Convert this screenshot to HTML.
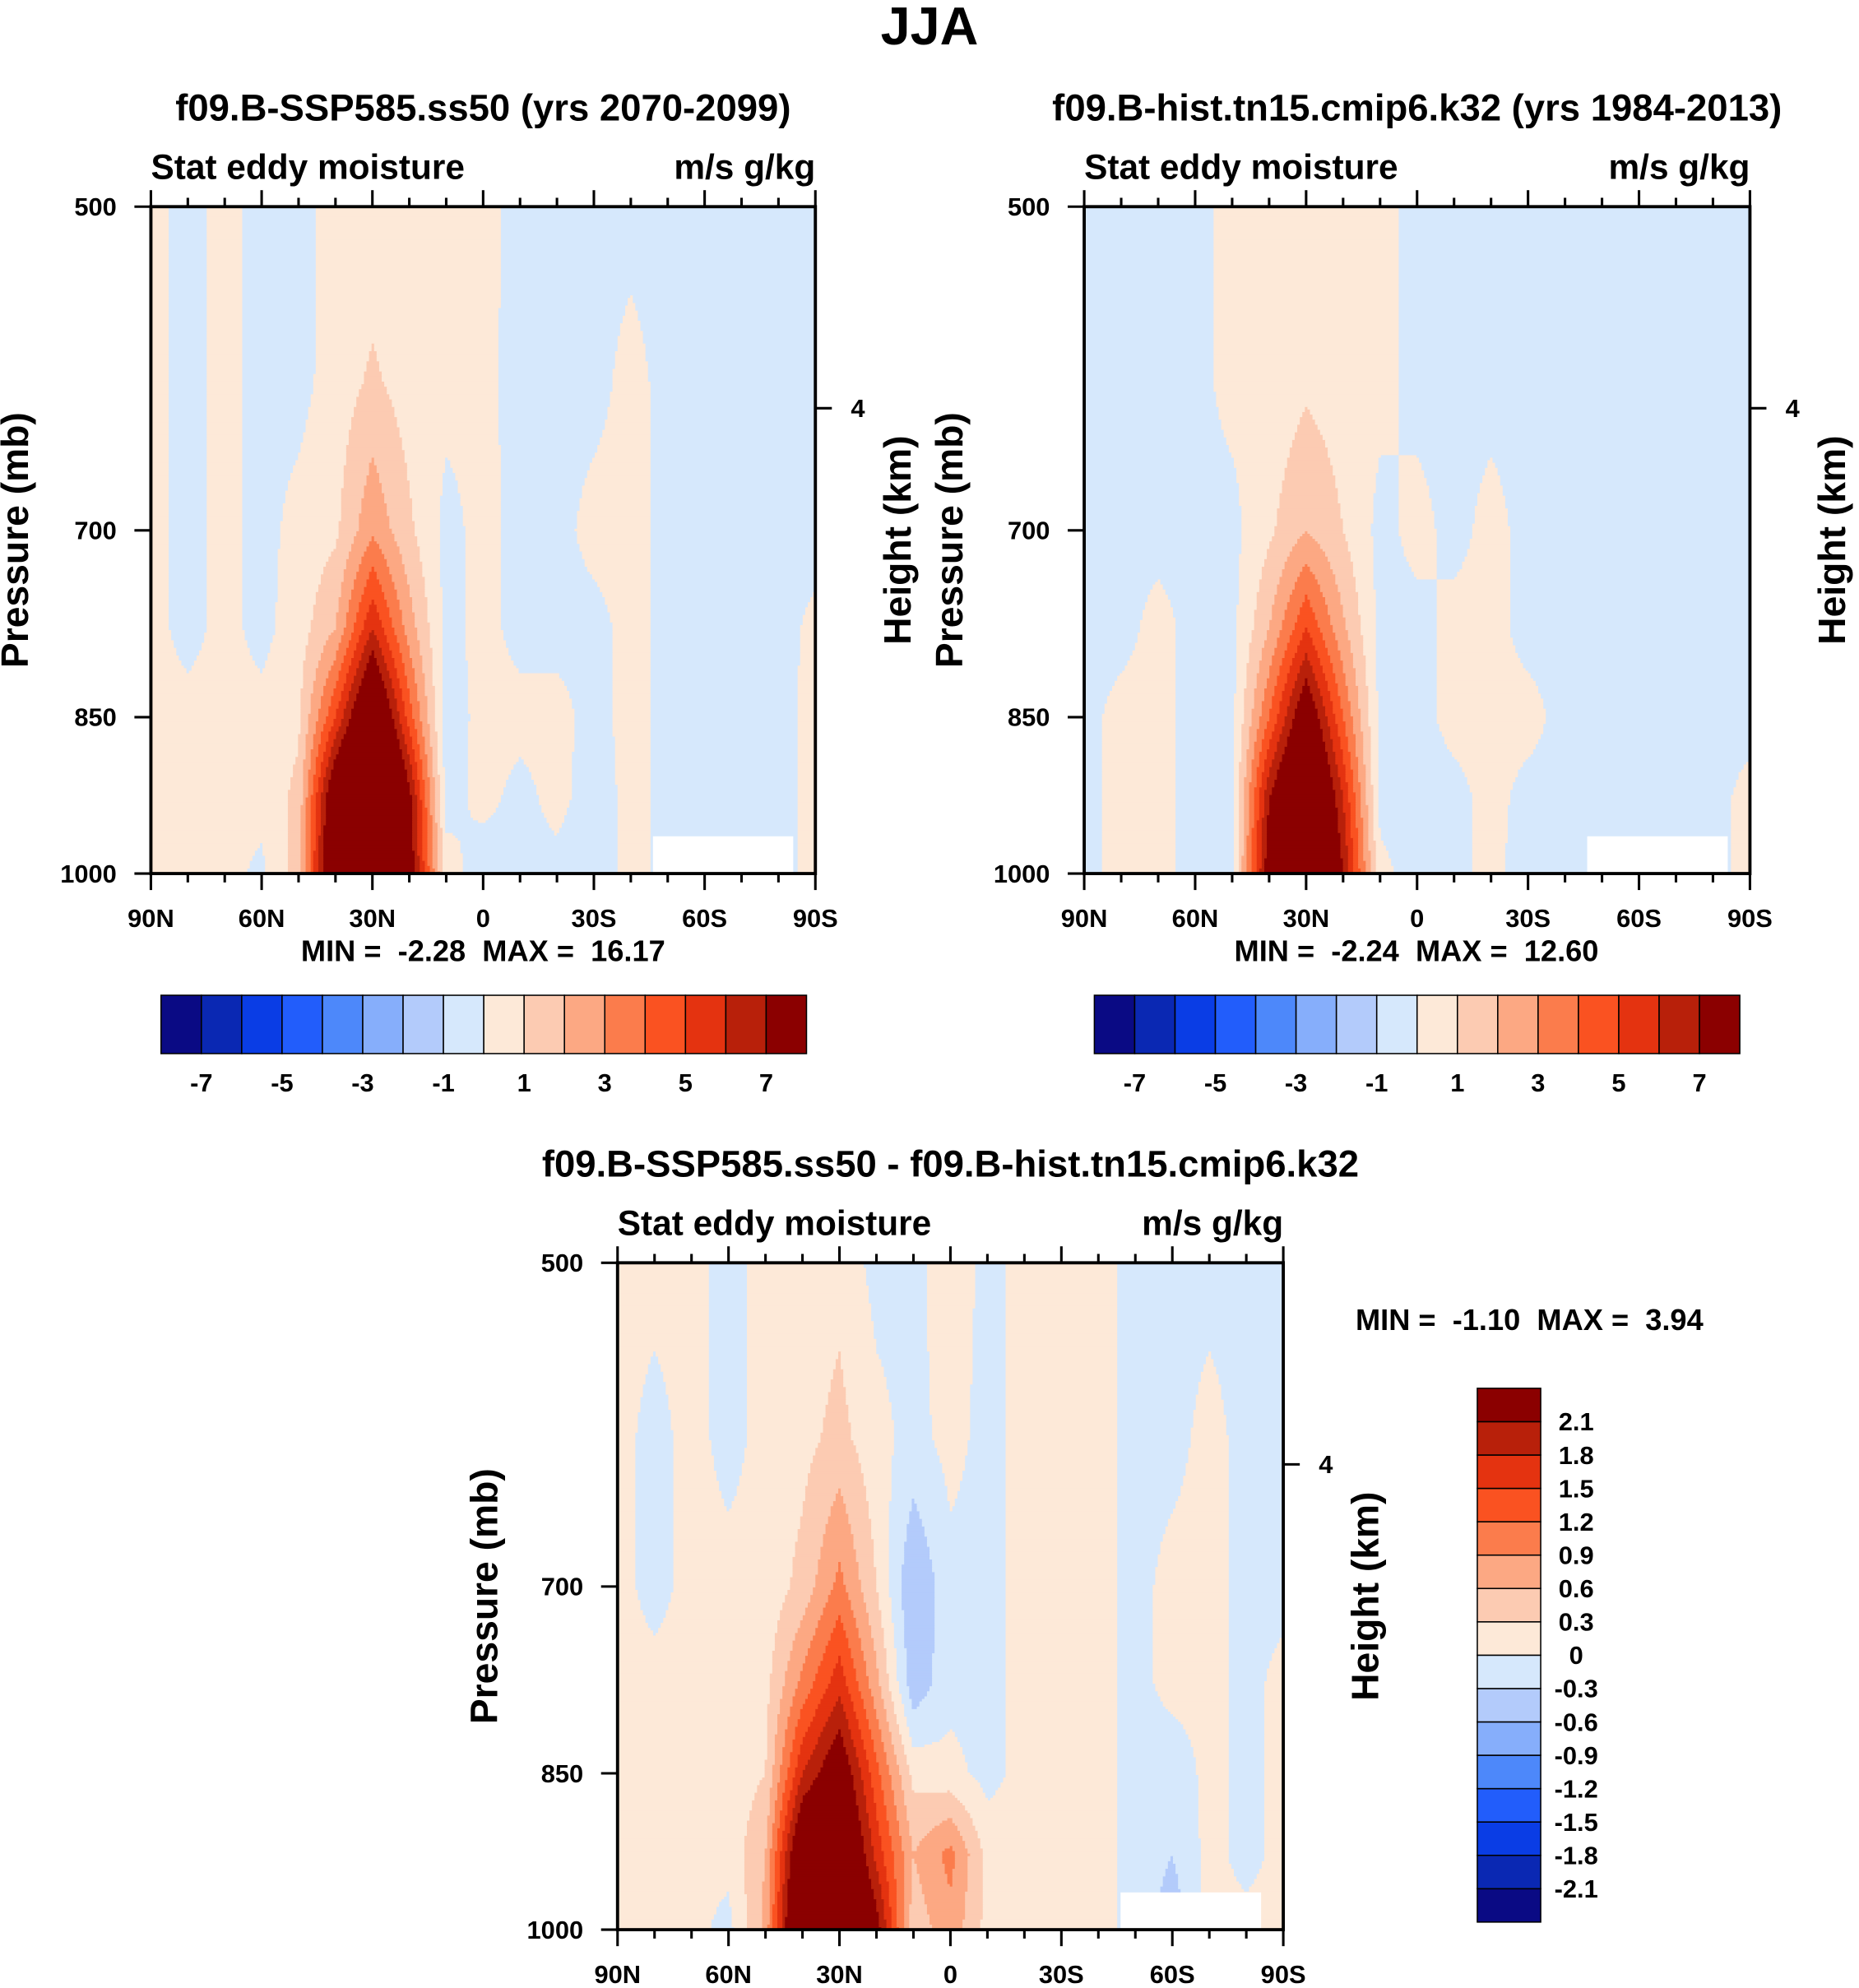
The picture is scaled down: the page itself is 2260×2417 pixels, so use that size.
<!DOCTYPE html>
<html><head><meta charset="utf-8"><title>JJA Stat eddy moisture</title>
<style>
html,body{margin:0;padding:0;background:#fff;}
svg{display:block;}
text{font-family:"Liberation Sans",Arial,sans-serif;font-weight:bold;fill:#000;white-space:pre;}
</style></head>
<body>
<svg id="fig" width="2260" height="2417" viewBox="0 0 1466 1568" preserveAspectRatio="none" xmlns="http://www.w3.org/2000/svg">
<text x="733" y="35" font-size="42" text-anchor="middle">JJA</text>
</svg>
<script>
// ---- data ----
const lats = [90,80,70,60,50,40,30,20,10,0,-10,-20,-30,-40,-50,-60,-70,-80,-90];
const levels = [500,600,700,775,850,925,1000];
const latTicks = [90,60,30,0,-30,-60,-90];
const latTickLabels = ["90N","60N","30N","0","30S","60S","90S"];
const presTicks = [500,700,850,1000];
const fieldFuture = [
 [.3,-.3,.3,-.3,-.3,.3,.3,.3,.3,.3,-.3,-.3,-.3,-.3,-.3,-.3,-.3,-.3,-.3],
 [.3,-.3,.3,-.3,-.3,.4,1.2,.5,.3,.2,-.3,-.3,-.3,.3,-.3,-.3,-.3,-.3,-.3],
 [.3,-.3,.3,-.3,.3,.8,2.8,1.2,-.3,.3,-.3,-.3,.3,.3,-.3,-.3,-.3,-.3,-.3],
 [.3,-.3,.3,-.3,.5,2,6,2.5,-.3,.3,-.3,-.3,-.3,.3,-.3,-.3,-.3,-.3,.2],
 [.3,.3,.3,.3,.8,5,10,4.5,-.5,.3,.3,.3,-.3,.3,-.3,-.3,-.5,-.3,.3],
 [.3,.3,.3,.3,1.3,9,13,7.5,-.4,.3,-.3,.3,-.5,.3,-.3,-.3,-.8,-.3,.3],
 [.3,.3,.3,-.2,1.5,10,15,8,.5,-.6,-.3,-.3,-.6,.3,-.3,-.3,-.6,-.3,.3]
];
const fieldHist = [
 [-.3,-.3,-.3,-.3,.3,.3,.3,.3,.3,-.3,-.3,-.3,-.3,-.3,-.3,-.3,-.3,-.3,-.3],
 [-.3,-.3,-.3,-.3,.3,.3,.8,.5,.3,-.3,-.3,-.3,-.3,-.3,-.3,-.3,-.3,-.3,-.3],
 [-.3,-.3,-.3,-.3,-.3,.8,2,1,-.3,.3,-.3,.3,-.3,-.3,-.3,-.3,-.3,-.3,-.3],
 [-.3,-.3,.3,-.3,-.3,2,5,2.2,-.3,-.3,.3,.3,-.3,-.3,-.3,-.3,-.3,-.3,-.3],
 [-.3,.3,.3,-.3,-.3,4,8.5,4,-.3,-.3,.3,.3,.3,-.3,-.3,-.3,-.3,-.3,-.3],
 [-.3,.3,.3,-.3,-.3,7,11,6,-.3,-.5,-.3,.3,-.3,-.3,-.3,-.3,-.5,-.3,.3],
 [-.3,.3,.3,-.3,-.3,8,12,7,.3,-.5,-.3,.3,-.5,-.3,-.3,-.3,-.3,-.3,.3]
];
const fieldDiff = [
 [.1,.1,.1,-.1,.1,.1,.2,-.1,-.1,.2,-.1,.1,.1,.1,-.1,-.1,-.1,-.1,-.1],
 [.1,-.1,.1,-.1,.1,.2,.4,.1,-.1,.1,-.1,.1,.1,.1,-.1,-.1,.1,-.1,-.1],
 [.1,-.1,.1,.1,.1,.4,1,.3,-.6,-.1,-.1,.1,.1,.1,-.1,.1,.1,-.1,-.1],
 [.1,.1,.1,.1,.2,1,1.7,.7,-.5,-.1,-.1,.1,.1,.1,-.1,.1,.1,-.1,.1],
 [.1,.1,.1,.1,.3,1.8,2.5,1.3,.2,.1,-.1,.1,.1,.1,-.1,-.2,.1,-.1,.1],
 [.1,.1,.1,.1,.6,2.8,3,1.7,.6,1,.2,.1,.1,.1,-.1,-.3,.1,-.1,.1],
 [.1,.1,.1,-.1,.7,3.3,3.3,2.3,.4,.8,.2,.1,.1,.1,-.1,-.5,.1,.1,.1]
];
const boundsFull = [-7,-6,-5,-4,-3,-2,-1,0,1,2,3,4,5,6,7];
const boundsDiff = [-2.1,-1.8,-1.5,-1.2,-0.9,-0.6,-0.3,0,0.3,0.6,0.9,1.2,1.5,1.8,2.1];
const cbLabelsFull = ["-7","-5","-3","-1","1","3","5","7"];
const cbLabelsDiff = ["2.1","1.8","1.5","1.2","0.9","0.6","0.3","0","-0.3","-0.6","-0.9","-1.2","-1.5","-1.8","-2.1"];
const minmax = [["-2.28","16.17"],["-2.24","12.60"],["-1.10","3.94"]];
const colors = ["#0a0a84","#0a28b3","#0a3de5","#225dfb","#4d88fa","#86aefb","#b3cbfb","#d6e8fc","#fde9d8","#fccbb2","#fca883","#fb7c4c","#fa5221","#e43310","#b8200a","#8b0000"];

const NS = "http://www.w3.org/2000/svg";
const svg = document.getElementById('fig');
function el(tag, attrs, parent, txt){
  const e = document.createElementNS(NS, tag);
  for (const k in attrs) e.setAttribute(k, attrs[k]);
  if (txt !== undefined) e.textContent = txt;
  (parent||svg).appendChild(e);
  return e;
}
function colorFor(v, b){
  let i = 0; while (i < b.length && v >= b[i]) i++;
  return colors[i];
}
function interp(field, lat, p){
  let fi = (90 - lat) / 10; fi = Math.max(0, Math.min(lats.length-1.0001, fi));
  let j = 0; while (j < levels.length-2 && p > levels[j+1]) j++;
  const l0 = Math.log(levels[j]), l1 = Math.log(levels[j+1]);
  let fj = (Math.log(p) - l0)/(l1-l0); fj = Math.max(0, Math.min(1, fj));
  const i0 = Math.floor(fi), tx = fi - i0, i1 = Math.min(i0+1, lats.length-1);
  const a = field[j][i0]*(1-tx) + field[j][i1]*tx;
  const b = field[j+1][i0]*(1-tx) + field[j+1][i1]*tx;
  return a*(1-fj) + b*fj;
}

function panel(name, x0, y0, w, h, field, bounds, title, hLabelX, presLabelX){
  const g = el('g', {}, svg);
  
  
  const xs = lat => x0 + (90 - lat)/180*w;
  const ys = p => y0 + (Math.log(p) - Math.log(500))/(Math.log(1000)-Math.log(500))*h;
  const plotArea = el('g', {}, g);
  
  
  const step = 2;
  const nx = Math.ceil(w / step);
  for (let py = y0; py < y0 + h; py += step) {
    const pc = Math.exp(Math.log(500) + ((py + step/2 - y0)/h)*(Math.log(1000)-Math.log(500)));
    let runStart = x0, runColor = null;
    for (let k = 0; k <= nx; k++) {
      const px = Math.min(x0 + k*step, x0 + w);
      let c = null;
      if (k < nx) {
        const lat = 90 - ((px + step/2 - x0)/w)*180;
        c = colorFor(interp(field, lat, pc), bounds);
      }
      if (c !== runColor) {
        if (runColor !== null) {
          const r = el('rect', {x: runStart, y: py, width: px - runStart + 0.6, height: Math.min(step + 0.6, y0 + h - py), fill: runColor}, plotArea);
          
          
        }
        runStart = px; runColor = c;
      }
    }
  }
  const mask = el('rect', {x: xs(-46), y: ys(962), width: xs(-84)-xs(-46), height: ys(1000)-ys(962), fill: '#fff'}, g);
  
  
  const fr = el('rect', {x: x0, y: y0, width: w, height: h, fill: 'none', stroke: '#000', 'stroke-width': 2.5}, g);
  
  
  for (const lt of lats) {
    const major = latTicks.includes(lt);
    const L = major ? 13 : 7;
    const x = xs(lt);
    const t1 = el('line', {x1: x, x2: x, y1: y0, y2: y0 - L, stroke: '#000', 'stroke-width': 2}, g);
    
    
    const t2 = el('line', {x1: x, x2: x, y1: y0 + h, y2: y0 + h + L, stroke: '#000', 'stroke-width': 2}, g);
    
    
  }
  latTicks.forEach((lt, i) => {
    const t = el('text', {x: xs(lt), y: y0 + h + 42, 'font-size': 20, 'text-anchor': 'middle'}, g, latTickLabels[i]);
    
    
  });
  presTicks.forEach(p => {
    const y = ys(p);
    const t = el('line', {x1: x0, x2: x0 - 13, y1: y, y2: y, stroke: '#000', 'stroke-width': 2}, g);
    
    
    const tl = el('text', {x: x0 - 27, y: y + 7, 'font-size': 20, 'text-anchor': 'end'}, g, String(p));
    
    
  });
  const hy = y0 + 159;
  const ht = el('line', {x1: x0 + w, x2: x0 + w + 13, y1: hy, y2: hy, stroke: '#000', 'stroke-width': 2}, g);
  
  
  const htl = el('text', {x: x0 + w + 28, y: hy + 7, 'font-size': 20}, g, '4');
  
  
  const hl = el('text', {x: hLabelX, y: y0 + 263, 'font-size': 30, 'text-anchor': 'middle', transform: `rotate(-90 ${hLabelX} ${y0+263})`}, g, 'Height (km)');
  
  
  const pl = el('text', {x: presLabelX, y: y0 + 263, 'font-size': 30, 'text-anchor': 'middle', transform: `rotate(-90 ${presLabelX} ${y0+263})`}, g, 'Pressure (mb)');
  
  
  const s1 = el('text', {x: x0, y: y0 - 22, 'font-size': 27.5}, g, 'Stat eddy moisture');
  
  
  const s2 = el('text', {x: x0 + w, y: y0 - 22, 'font-size': 27.5, 'text-anchor': 'end'}, g, 'm/s g/kg');
  
  
  const tt = el('text', {x: x0 + w/2, y: y0 - 68, 'font-size': 29.5, 'text-anchor': 'middle'}, g, title);
  
  
  return g;
}

function hColorbar(name, x0, y0, w, h){
  const g = el('g', {}, svg);
  
  
  const bw = w / colors.length;
  colors.forEach((c, i) => {
    const r = el('rect', {x: x0 + i*bw, y: y0, width: bw, height: h, fill: c, stroke: '#000', 'stroke-width': 1}, g);
    
    
  });
  cbLabelsFull.forEach((lab, k) => {
    const t = el('text', {x: x0 + (1 + 2*k)*bw, y: y0 + h + 30, 'font-size': 20, 'text-anchor': 'middle'}, g, lab);
    
    
  });
}
function mmText(x, y, mm, anchor){
  const t = el('text', {x: x, y: y, 'font-size': 23.5, 'text-anchor': anchor}, svg, `MIN =  ${mm[0]}  MAX =  ${mm[1]}`);
  
  
}

panel('panel-future', 119, 163, 524, 526, fieldFuture, boundsFull, 'f09.B-SSP585.ss50 (yrs 2070-2099)', 718, 22);
panel('panel-historical', 855, 163, 525, 526, fieldHist, boundsFull, 'f09.B-hist.tn15.cmip6.k32 (yrs 1984-2013)', 1455, 759);
panel('panel-difference', 487, 996, 525, 526, fieldDiff, boundsDiff, 'f09.B-SSP585.ss50 - f09.B-hist.tn15.cmip6.k32', 1087, 392);
mmText(381, 758, minmax[0], 'middle');
mmText(1117, 758, minmax[1], 'middle');
mmText(1069, 1049, minmax[2], 'start');
hColorbar('colorbar-future', 127, 785, 509, 46);
hColorbar('colorbar-historical', 863, 785, 509, 46);

(function(){
  const g = el('g', {}, svg);
  
  
  const x0 = 1165, y0 = 1095, w = 50, h = 421;
  const bh = h / colors.length;
  colors.forEach((c, i) => {
    const r = el('rect', {x: x0, y: y0 + h - (i+1)*bh, width: w, height: bh, fill: c, stroke: '#000', 'stroke-width': 1}, g);
    
    
  });
  cbLabelsDiff.forEach((lab, k) => {
    const t = el('text', {x: x0 + w + 28, y: y0 + (k+1)*bh + 7, 'font-size': 20, 'text-anchor': 'middle'}, g, lab);
    
    
  });
})();
</script>
</body></html>
